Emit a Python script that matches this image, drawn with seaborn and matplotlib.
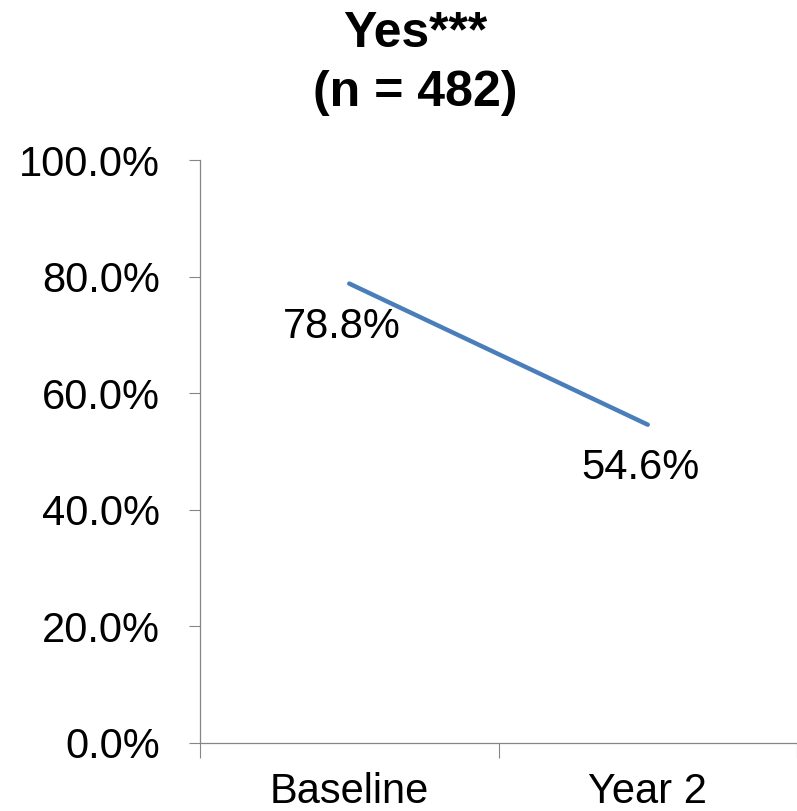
import matplotlib
matplotlib.use("Agg")
import matplotlib.pyplot as plt
import seaborn as sns
import pandas as pd
from matplotlib.ticker import FuncFormatter, FixedLocator

categories = ["Baseline", "Year 2"]
values = [0.788, 0.546]
value_labels = ["78.8%", "54.6%"]
title_lines = ["Yes***", "(n = 482)"]

sns.set_theme(style="white")
plt.rcParams['font.family'] = ['Liberation Sans', 'DejaVu Sans']

fig = plt.figure(figsize=(7.97, 8.11), dpi=100)
ax = fig.add_axes([200/797, 68/811, 597/797, 583/811])

df = pd.DataFrame({"period": categories, "share": values})
sns.lineplot(data=df, x="period", y="share", ax=ax, color="#4A7EBB",
             linewidth=3.2, solid_capstyle="round", sort=False)

for i, (v, lab) in enumerate(zip(values, value_labels)):
    ax.annotate(lab, xy=(i, v), xytext=(-5, -31), textcoords="offset points",
                ha="center", va="center", fontsize=30, color="black")

ax.set_xlim(-0.5, (797 - 350) / 300 - 0.5 + 0.0)
ax.set_ylim(0, 1)
ax.set_yticks([0, 0.2, 0.4, 0.6, 0.8, 1.0])
ax.yaxis.set_major_formatter(FuncFormatter(lambda v, p: f"{v*100:.1f}%"))
ax.set_xticks([-0.5, 0.5, 1.5])
ax.set_xticklabels(["", "", ""])
ax.xaxis.set_minor_locator(FixedLocator([0, 1]))
ax.set_xticklabels(categories, minor=True)
ax.tick_params(axis="x", which="major", direction="out", length=11, width=0.8, color="#868686", bottom=True)
ax.tick_params(axis="x", which="minor", length=0, pad=21, labelsize=30, labelcolor="black", bottom=True)
ax.tick_params(axis="y", which="major", direction="out", length=8, width=0.8, color="#868686", left=True,
               pad=21, labelsize=30, labelcolor="black")
ax.set_xlabel("")
ax.set_ylabel("")
for s in ["top", "right"]:
    ax.spines[s].set_visible(False)
for s in ["left", "bottom"]:
    ax.spines[s].set_color("#868686")
    ax.spines[s].set_linewidth(0.9)
ax.grid(False)

fig.text(415/797, 1 - 47/811, title_lines[0], ha="center", va="baseline",
         fontsize=36, fontweight="bold", color="black")
fig.text(415/797, 1 - 106/811, title_lines[1], ha="center", va="baseline",
         fontsize=36, fontweight="bold", color="black")

fig.savefig("out.png", dpi=100)
